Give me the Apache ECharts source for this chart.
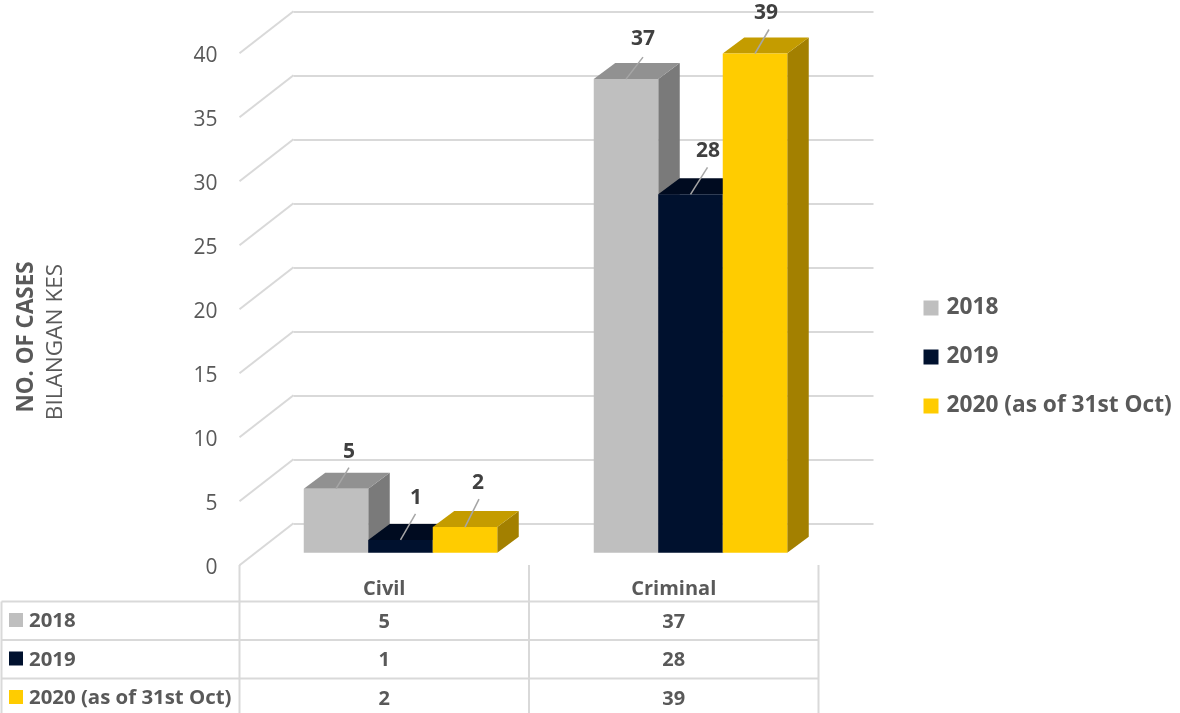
<!DOCTYPE html>
<html><head><meta charset="utf-8">
<style>html,body{margin:0;padding:0;background:#fff}#c{width:1180px;height:713px}</style>
<script src="https://cdn.jsdelivr.net/npm/echarts@6/dist/echarts.min.js"></script>
</head><body><div id="c"></div>
<script>
const categories = ['Civil', 'Criminal'];
const seriesNames = ['2018', '2019', '2020 (as of 31st Oct)'];
const values2018 = [5, 37];
const values2019 = [1, 28];
const values2020 = [2, 39];
const yTicks = [0, 5, 10, 15, 20, 25, 30, 35, 40];

const FONT = '"Open Sans", sans-serif';
const GRID_C = '#d9d9d9';
const LABEL_C = '#404040';
const TEXT_C = '#595959';
const DEPTH_X = 21.5, DEPTH_Y = 16;
const faces = [
  {front:'#bfbfbf', top:'#919191', side:'#7a7a7a'},
  {front:'#00112e', top:'#000b20', side:'#000a1c'},
  {front:'#ffcc00', top:'#c49c00', side:'#a38000'}
];
// leader end / label offset from the top-centre of each bar's front face
const leaders = [
  [[13,-21,13,-37],[17,-22,17,-40]],
  [[15,-26,15.5,-42],[17,-27,17.5,-43]],
  [[14,-28,13,-44],[14,-24,11,-40]]
];
const allValues = [values2018, values2019, values2020];
const BAR_W = 64.5;

function barSeries(si) {
  return {
    type:'custom', name:seriesNames[si], xAxisIndex:2, yAxisIndex:2, z:5, clip:false,
    coordinateSystem:'cartesian2d',
    itemStyle:{color:faces[si].front},
    data:allValues[si].map((v,i)=>[i,v]),
    encode:{x:0,y:1},
    renderItem:function(params,api){
      const cat=api.value(0), v=api.value(1);
      const p=api.coord([cat,v]), b=api.coord([cat,0]);
      const cx=p[0]+(si-1)*BAR_W, l=cx-BAR_W/2, r=cx+BAR_W/2, t=p[1], bot=b[1];
      const f=faces[si], L=leaders[si][cat];
      const poly=(pts,c)=>({type:'polygon',shape:{points:pts},style:{fill:c}});
      return {type:'group',children:[
        poly([[r,bot],[r+DEPTH_X,bot-DEPTH_Y],[r+DEPTH_X,t-DEPTH_Y],[r,t]],f.side),
        poly([[l,t],[l+DEPTH_X,t-DEPTH_Y],[r+DEPTH_X,t-DEPTH_Y],[r,t]],f.top),
        {type:'rect',shape:{x:l,y:t,width:BAR_W,height:bot-t},style:{fill:f.front}},
        {type:'line',z2:10,shape:{x1:cx,y1:t,x2:cx+L[0],y2:t+L[1]},style:{stroke:'#a6a6a6',lineWidth:1.5}},
        {type:'text',z2:11,style:{text:String(v),x:cx+L[2],y:t+L[3],align:'center',verticalAlign:'middle',
          font:'bold 21px '+FONT,fill:LABEL_C}}
      ]};
    }
  };
}
const wallDiagonals = {
  type:'custom', xAxisIndex:0, yAxisIndex:0, z:1, silent:true, clip:false,
  data:yTicks.map(v=>[0,v]),
  renderItem:function(params,api){
    const p=api.coord([0,api.value(1)]);
    const left=params.coordSys.x;
    return {type:'line',shape:{x1:left,y1:p[1],x2:left+54,y2:p[1]-42},style:{stroke:GRID_C,lineWidth:2}};
  }
};

// data table below the plot
const T_LEFT=1.5, T_X=[239.5,529,818.5], T_Y=[601.5,640,678.5,713];
const graphics=[];
const hline=(x1,x2,y)=>({type:'line',shape:{x1,y1:y,x2,y2:y},style:{stroke:GRID_C,lineWidth:2},z:2});
const vline=(x,y1,y2)=>({type:'line',shape:{x1:x,y1,x2:x,y2},style:{stroke:GRID_C,lineWidth:2},z:2});
const txt=(s,x,y,font,fill,align)=>({type:'text',z:3,style:{text:s,x,y,font,fill,align:align||'center',verticalAlign:'middle'}});
T_Y.slice(0,3).forEach(y=>graphics.push(hline(T_LEFT,T_X[2],y)));
graphics.push(vline(T_LEFT,T_Y[0],713));
T_X.forEach(x=>graphics.push(vline(x,565,713)));
categories.forEach((c,i)=>{
  const cx=(T_X[i]+T_X[i+1])/2;
  graphics.push(txt(c,cx,589,'bold 20px '+FONT,TEXT_C));
  allValues.forEach((arr,s)=>graphics.push(txt(String(arr[i]),cx,622+s*38.5,'bold 20px '+FONT,TEXT_C)));
});
seriesNames.forEach((n,s)=>{
  const y=620+s*38.5;
  graphics.push({type:'rect',z:3,shape:{x:9,y:y-7,width:14,height:14},style:{fill:faces[s].front}});
  graphics.push(txt(n,29,y+1.5,'bold 20.4px '+FONT,TEXT_C,'left'));
});
graphics.push({type:'text',z:3,rotation:Math.PI/2,x:27,y:337,style:{text:'NO. OF CASES',font:'bold 22.4px '+FONT,fill:TEXT_C,align:'center',verticalAlign:'middle'}});
graphics.push({type:'text',z:3,rotation:Math.PI/2,x:56,y:342,style:{text:'BILANGAN KES',font:'22.6px '+FONT,fill:TEXT_C,align:'center',verticalAlign:'middle'}});

const chart=echarts.init(document.getElementById('c'),null,{renderer:'canvas'});
const hiddenX={type:'category',data:categories,axisLine:{show:false},axisTick:{show:false},axisLabel:{show:false},splitLine:{show:false}};
const hiddenY={type:'value',min:0,max:40,interval:5,axisLine:{show:false},axisTick:{show:false},axisLabel:{show:false},splitLine:{show:false}};
chart.setOption({
  animation:false,
  backgroundColor:'#fff',
  grid:[
    {left:239.5,width:579,top:53.3,height:512},   // front wall: diagonals
    {left:293.5,width:580,top:11.3,height:512},   // back wall: gridlines
    {left:255.5,width:580,top:40.7,height:512},   // bar plane
    {left:239.5,width:579,top:56.3,height:512}    // tick labels, optically centred
  ],
  xAxis:[0,1,2,3].map(i=>Object.assign({gridIndex:i},hiddenX)),
  yAxis:[
    Object.assign({gridIndex:0},hiddenY),
    Object.assign({gridIndex:1},hiddenY,{splitLine:{show:true,lineStyle:{color:GRID_C,width:2}}}),
    Object.assign({gridIndex:2},hiddenY),
    Object.assign({gridIndex:3},hiddenY,{axisLabel:{show:true,color:TEXT_C,fontFamily:FONT,fontSize:21,margin:22}})
  ],
  legend:{orient:'vertical',left:918.5,top:291.5,itemWidth:15,itemHeight:15,itemGap:26,icon:'rect',
    data:seriesNames,selectedMode:false,
    textStyle:{color:TEXT_C,fontFamily:FONT,fontWeight:'bold',fontSize:22.7,padding:[0,0,0,3],lineHeight:15}},
  series:[wallDiagonals,barSeries(0),barSeries(1),barSeries(2)],
  graphic:graphics
});
</script></body></html>
